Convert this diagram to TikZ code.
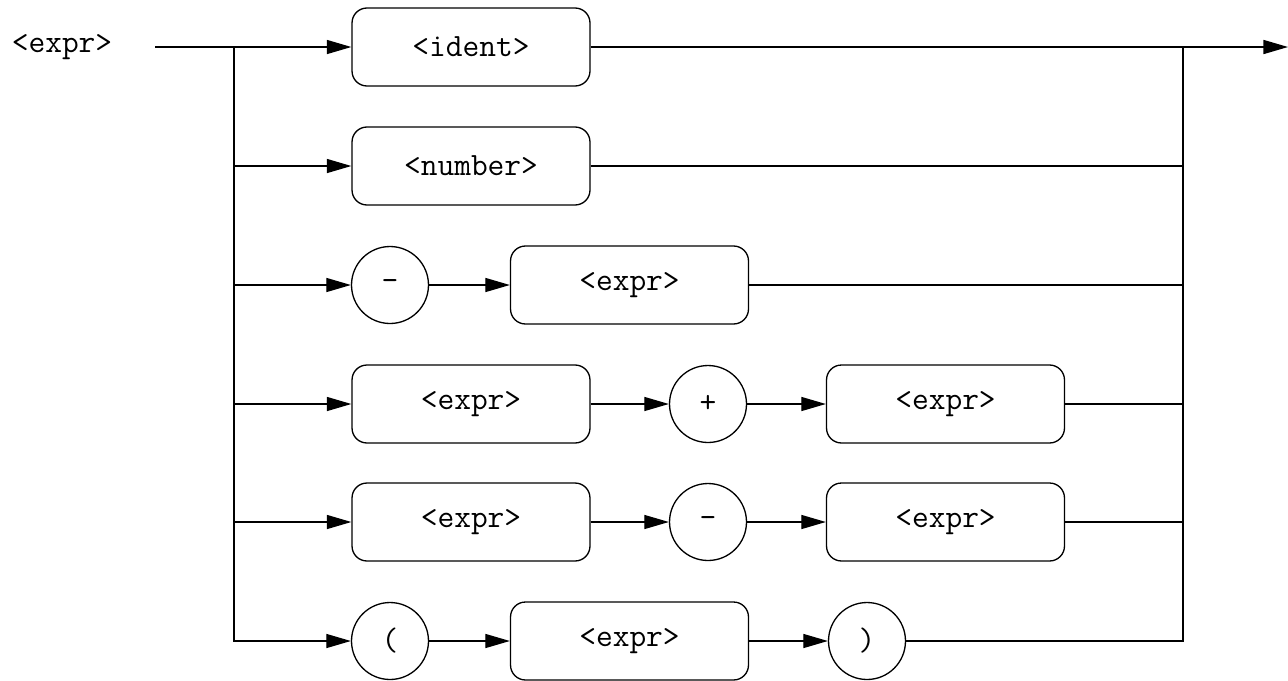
\documentclass[tikz,border=0pt]{standalone}
\usetikzlibrary{arrows.meta}

\begin{document}
\begin{tikzpicture}[x=0.02cm, y=-0.02cm, line width=0.75pt]
        \tikzstyle{every node}=[font=\ttfamily\fontsize{18.5}{22}\selectfont]
        \tikzstyle{nonterm}=[draw, rounded corners=8.5pt, minimum width=4.76cm, minimum height=1.56cm, inner sep=0pt]
        \tikzstyle{term}=[draw, circle, minimum size=1.54cm, inner sep=0pt]
        \tikzstyle{flow}=[-{Triangle[length=14pt, width=8pt]}]

        \useasboundingbox (0,0) rectangle (1288,680);

% the syntax diagram for an expression

        \node (start) at (62,47) {<expr>};
        \coordinate (in) at (155,47);
        \coordinate (split) at (234,47);
        \coordinate (join) at (1183,47);
        \coordinate (out) at (1288,47);

        \node[nonterm] (ident) at (471,47) {<ident>};
        \node[nonterm] (number) at (471,166) {<number>};

        \node[term] (neg) at (390,285) {-};
        \node[nonterm] (negexpr) at (629.5,285) {<expr>};

        \node[nonterm] (addl) at (471,404) {<expr>};
        \node[term] (add) at (708,404) {+};
        \node[nonterm] (addr) at (945.5,404) {<expr>};

        \node[nonterm] (subl) at (471,522) {<expr>};
        \node[term] (sub) at (708,522) {-};
        \node[nonterm] (subr) at (945.5,522) {<expr>};

        \node[term] (lpar) at (390,641) {(};
        \node[nonterm] (parexpr) at (629.5,641) {<expr>};
        \node[term] (rpar) at (867,641) {)};

        % branches out of the split
        \draw[flow] (in) -- (ident);
        \draw[flow] (split) |- (lpar);
        \draw[flow] (split |- number) -- (number);
        \draw[flow] (split |- neg) -- (neg);
        \draw[flow] (split |- addl) -- (addl);
        \draw[flow] (split |- subl) -- (subl);

        % inside the rows
        \draw[flow] (neg) -- (negexpr);
        \draw[flow] (addl) -- (add);
        \draw[flow] (add) -- (addr);
        \draw[flow] (subl) -- (sub);
        \draw[flow] (sub) -- (subr);
        \draw[flow] (lpar) -- (parexpr);
        \draw[flow] (parexpr) -- (rpar);

        % back into the join
        \draw[flow] (ident) -- (out);
        \draw (rpar) -| (join);
        \draw (number) -- (join |- number);
        \draw (negexpr) -- (join |- negexpr);
        \draw (addr) -- (join |- addr);
        \draw (subr) -- (join |- subr);

    \end{tikzpicture}
\end{document}
